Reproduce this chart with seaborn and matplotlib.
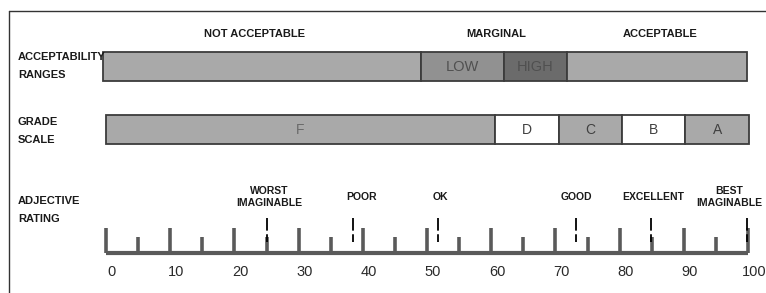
import numpy as np
import pandas as pd
import seaborn as sns
import matplotlib.pyplot as plt
from matplotlib.lines import Line2D

# acceptability ranges (SUS score)
range_names = ["", "LOW", "HIGH", ""]
range_start = [-0.5, 49.1, 62.0, 71.8]
range_end = [49.1, 62.0, 71.8, 99.8]
range_colors = ["#a9a9a9", "#919191", "#6b6b6b", "#a9a9a9"]
range_headers = ["NOT ACCEPTABLE", "MARGINAL", "ACCEPTABLE"]
header_pos = [23.2, 60.8, 86.3]

# grade scale
grades = ["F", "D", "C", "B", "A"]
grade_start = [0, 60.6, 70.6, 80.4, 90.2]
grade_end = [60.6, 70.6, 80.4, 90.2, 100.2]
grade_colors = ["#a9a9a9", "#ffffff", "#a9a9a9", "#ffffff", "#a9a9a9"]

# adjective rating
adjectives = ["WORST\nIMAGINABLE", "POOR", "OK", "GOOD", "EXCELLENT", "BEST\nIMAGINABLE"]
adj_scores = [25.0, 38.4, 51.7, 73.2, 84.9, 99.8]

# scale
major_ticks = np.arange(0, 101, 10)
minor_ticks = np.arange(5, 100, 10)

sns.set_style("white")
plt.rcParams['font.family'] = ['Liberation Sans Narrow', 'Liberation Sans', 'DejaVu Sans']

fig = plt.figure(figsize=(7.66, 2.93), dpi=100)
ax = fig.add_axes([0, 0, 1, 1])
px = 6.42  # pixels per score unit
ax.set_xlim(-106 / px, (766 - 106) / px)
ax.set_ylim(293, 0)
ax.axis("off")

ranges = pd.DataFrame({"name": range_names, "start": range_start, "end": range_end, "color": range_colors})
ax.barh(66.5, ranges["end"] - ranges["start"], left=ranges["start"], height=29,
        color=ranges["color"], edgecolor="#3c3c3c", linewidth=1.3)
for _, r in ranges.iterrows():
    if r["name"]:
        ax.text((r["start"] + r["end"]) / 2, 67, r["name"], ha="center", va="center",
                fontsize=10.5, color="#505050", family=['Liberation Sans', 'DejaVu Sans'])
for name, x in zip(range_headers, header_pos):
    ax.text(x, 34, name, ha="center", va="center", fontsize=8, fontweight="bold", color="#1a1a1a")

gs = pd.DataFrame({"grade": grades, "start": grade_start, "end": grade_end, "color": grade_colors})
ax.barh(129.5, gs["end"] - gs["start"], left=gs["start"], height=29,
        color=gs["color"], edgecolor="#3c3c3c", linewidth=1.3)
for _, g in gs.iterrows():
    ax.text((g["start"] + g["end"]) / 2, 130, g["grade"], ha="center", va="center",
            fontsize=10, color="#6a6a6a" if g["grade"] == "F" else "#404040",
            family=['Liberation Sans', 'DejaVu Sans'])

# ruler
ax.plot([0, 100], [253, 253], color="#5a5a5a", linewidth=3, solid_capstyle="butt")
ax.vlines(major_ticks, 228, 253, color="#5a5a5a", linewidth=2.6)
ax.vlines(minor_ticks, 237, 253, color="#5a5a5a", linewidth=2.6)
for t in major_ticks:
    ax.text(t + 0.9, 272, str(t), ha="center", va="center", fontsize=10.5,
            color="#2a2a2a", family=['Liberation Sans', 'DejaVu Sans'])

# adjectives
nudge = [0.5, 1.4, 0.4, 0.1, 0.4, -2.7]
ax.vlines(adj_scores, 218, 242, color="black", linewidth=1.3, linestyles=(0, (7, 2)))
for name, s, dx in zip(adjectives, adj_scores, nudge):
    ax.text(s + dx, 197, name, ha="center", va="center", fontsize=7.5, fontweight="bold",
            color="#1a1a1a", linespacing=1.35)

# row labels
row_labels = ["ACCEPTABILITY\nRANGES", "GRADE\nSCALE", "ADJECTIVE\nRATING"]
row_y = [66, 131, 210]
for lab, y in zip(row_labels, row_y):
    ax.text(18 / px - 106 / px, y, lab, ha="left", va="center", fontsize=8,
            fontweight="bold", color="#1a1a1a", linespacing=1.9)

# frame
fig.add_artist(Line2D([9 / 766, 1], [1 - 11 / 293, 1 - 11 / 293], color="#333333", linewidth=1.0))
fig.add_artist(Line2D([9 / 766, 9 / 766], [0, 1 - 11 / 293], color="#333333", linewidth=1.0))

fig.savefig("out.png", dpi=100)
